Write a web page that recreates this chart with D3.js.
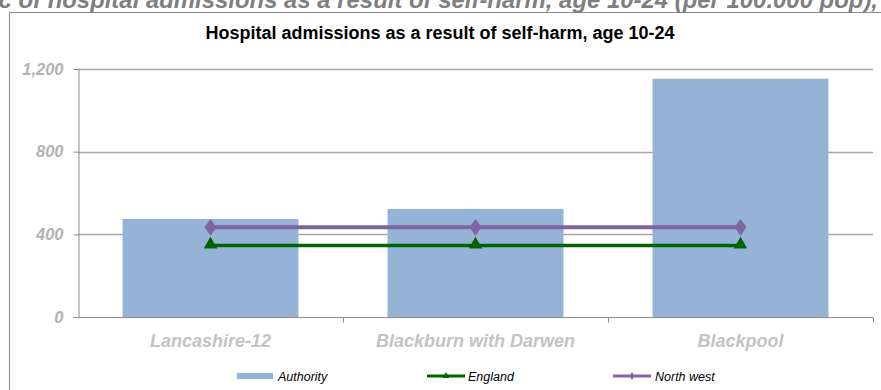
<!DOCTYPE html>
<html>
<head>
<meta charset="utf-8">
<script src="https://cdn.jsdelivr.net/npm/d3@7"></script>
<style>
body { margin: 0; background: #fff; overflow: hidden; }
svg { display: block; font-family: "Liberation Sans", Arial, sans-serif; }
.grid line { stroke: #a6a6a6; stroke-width: 1.3; }
.axis path, .axis line { stroke: #8c8c8c; }
</style>
</head>
<body>
<div class="graph"></div>
<script>
// donnees
var categories = ["Lancashire-12", "Blackburn with Darwen", "Blackpool"];
var authority = [474, 523, 1153];
var england = [346, 346, 346];
var northWest = [434, 434, 434];
var yTicks = [0, 400, 800, 1200];

var width = 881, height = 390;
var plot = {left: 78, right: 873, top: 69, bottom: 317};

var svg = d3.select(".graph").append("svg")
	.attr("width", width)
	.attr("height", height);

// cadre exterieur
svg.append("rect")
	.attr("x", 9.5).attr("y", 12.5)
	.attr("width", 900).attr("height", 400)
	.attr("fill", "none")
	.attr("stroke", "#8c8c8c");

// titre coupe en haut (le debut depasse a gauche)
var topTitle = svg.append("text")
	.attr("x", 878).attr("y", 8)
	.attr("text-anchor", "end")
	.attr("font-size", 21)
	.attr("font-weight", "bold")
	.attr("font-style", "italic")
	.attr("fill", "#7f7f7f")
	.text("c of hospital admissions as a result of self-harm, age 10-24 (per 100.000 pop),");
var tl = topTitle.node().getComputedTextLength();
topTitle.attr("font-size", 21 * 880 / tl);

svg.append("text")
	.attr("x", 440).attr("y", 39)
	.attr("text-anchor", "middle")
	.attr("font-size", 18)
	.attr("font-weight", "bold")
	.attr("fill", "#000")
	.text("Hospital admissions as a result of self-harm, age 10-24");

var x = d3.scaleBand().domain(categories).range([plot.left, plot.right]).paddingInner(0.336).paddingOuter(0.168);
var xPoint = d3.scalePoint().domain(categories).range([plot.left, plot.right]).padding(0.5);
var y = d3.scaleLinear().domain([0, 1200]).range([plot.bottom, plot.top]);

// grille
svg.append("g")
	.attr("class", "grid")
	.selectAll("line")
	.data(yTicks.slice(1))
	.enter().append("line")
	.attr("x1", plot.left).attr("x2", plot.right)
	.attr("y1", function(d){ return Math.round(y(d)) + 0.5; })
	.attr("y2", function(d){ return Math.round(y(d)) + 0.5; });

// barres
svg.append("g")
	.selectAll("rect")
	.data(authority)
	.enter().append("rect")
	.attr("x", function(d, i){ return x(categories[i]); })
	.attr("y", function(d){ return y(d); })
	.attr("width", x.bandwidth())
	.attr("height", function(d){ return y(0) - y(d); })
	.attr("fill", "#95b3d7");

// axe y
var yAxis = svg.append("g")
	.attr("class", "axis")
	.attr("transform", "translate(" + (plot.left + 0.5) + ",0)")
	.call(d3.axisLeft(y).tickValues(yTicks).tickSize(5).tickPadding(10).tickFormat(d3.format(",")));
yAxis.selectAll("text")
	.attr("font-size", 16.5)
	.attr("font-weight", "bold")
	.attr("font-style", "italic")
	.attr("fill", "#b2b2b2")
	.attr("font-family", "Liberation Sans, Arial, sans-serif");

// axe x
var xAxis = svg.append("g")
	.attr("class", "axis")
	.attr("transform", "translate(0," + (plot.bottom + 0.5) + ")");
xAxis.append("line")
	.attr("x1", plot.left).attr("x2", plot.right);
xAxis.selectAll(".tk")
	.data(categories)
	.enter().append("line")
	.attr("class", "tk")
	.attr("x1", function(d){ return Math.round(xPoint(d) + xPoint.step() / 2) + 0.5; })
	.attr("x2", function(d){ return Math.round(xPoint(d) + xPoint.step() / 2) + 0.5; })
	.attr("y1", 0).attr("y2", 5);
xAxis.selectAll("text")
	.data(categories)
	.enter().append("text")
	.attr("x", function(d){ return xPoint(d); })
	.attr("y", 29)
	.attr("text-anchor", "middle")
	.attr("font-size", 18)
	.attr("font-weight", "bold")
	.attr("font-style", "italic")
	.attr("fill", "#c3c3c3")
	.text(function(d){ return d; });

var line = d3.line()
	.x(function(d, i){ return xPoint(categories[i]); })
	.y(function(d){ return y(d); });

// England
svg.append("path")
	.datum(england)
	.attr("d", line)
	.attr("fill", "none")
	.attr("stroke", "#006400")
	.attr("stroke-width", 3.5);
svg.append("g").selectAll("path")
	.data(england)
	.enter().append("path")
	.attr("d", d3.symbol().type(d3.symbolTriangle).size(80))
	.attr("transform", function(d, i){ return "translate(" + xPoint(categories[i]) + "," + (y(d) - 1) + ")"; })
	.attr("fill", "#006400");

// North west
svg.append("path")
	.datum(northWest)
	.attr("d", line)
	.attr("fill", "none")
	.attr("stroke", "#8064a2")
	.attr("stroke-width", 4);
svg.append("g").selectAll("path")
	.data(northWest)
	.enter().append("path")
	.attr("d", d3.symbol().type(d3.symbolDiamond).size(80))
	.attr("transform", function(d, i){ return "translate(" + xPoint(categories[i]) + "," + y(d) + ") scale(1.25,1)"; })
	.attr("fill", "#8064a2");

// legende
var legend = svg.append("g").attr("transform", "translate(0,376)");
legend.append("rect")
	.attr("x", 237).attr("y", -3).attr("width", 36).attr("height", 6)
	.attr("fill", "#95b3d7");
legend.append("line")
	.attr("x1", 427).attr("x2", 465).attr("y1", 0).attr("y2", 0)
	.attr("stroke", "#006400").attr("stroke-width", 3);
legend.append("path")
	.attr("d", d3.symbol().type(d3.symbolTriangle).size(20))
	.attr("transform", "translate(446,0)")
	.attr("fill", "#006400");
legend.append("line")
	.attr("x1", 613).attr("x2", 651).attr("y1", 0).attr("y2", 0)
	.attr("stroke", "#8064a2").attr("stroke-width", 3);
legend.append("path")
	.attr("d", d3.symbol().type(d3.symbolDiamond).size(20))
	.attr("transform", "translate(632,0)")
	.attr("fill", "#8064a2");
var legendItems = [["Authority", 278], ["England", 468], ["North west", 655]];
legend.selectAll("text.lg")
	.data(legendItems)
	.enter().append("text")
	.attr("class", "lg")
	.attr("x", function(d){ return d[1]; })
	.attr("y", 4.5)
	.attr("font-size", 12.5)
	.attr("font-style", "italic")
	.attr("fill", "#000")
	.text(function(d){ return d[0]; });
</script>
</body>
</html>
